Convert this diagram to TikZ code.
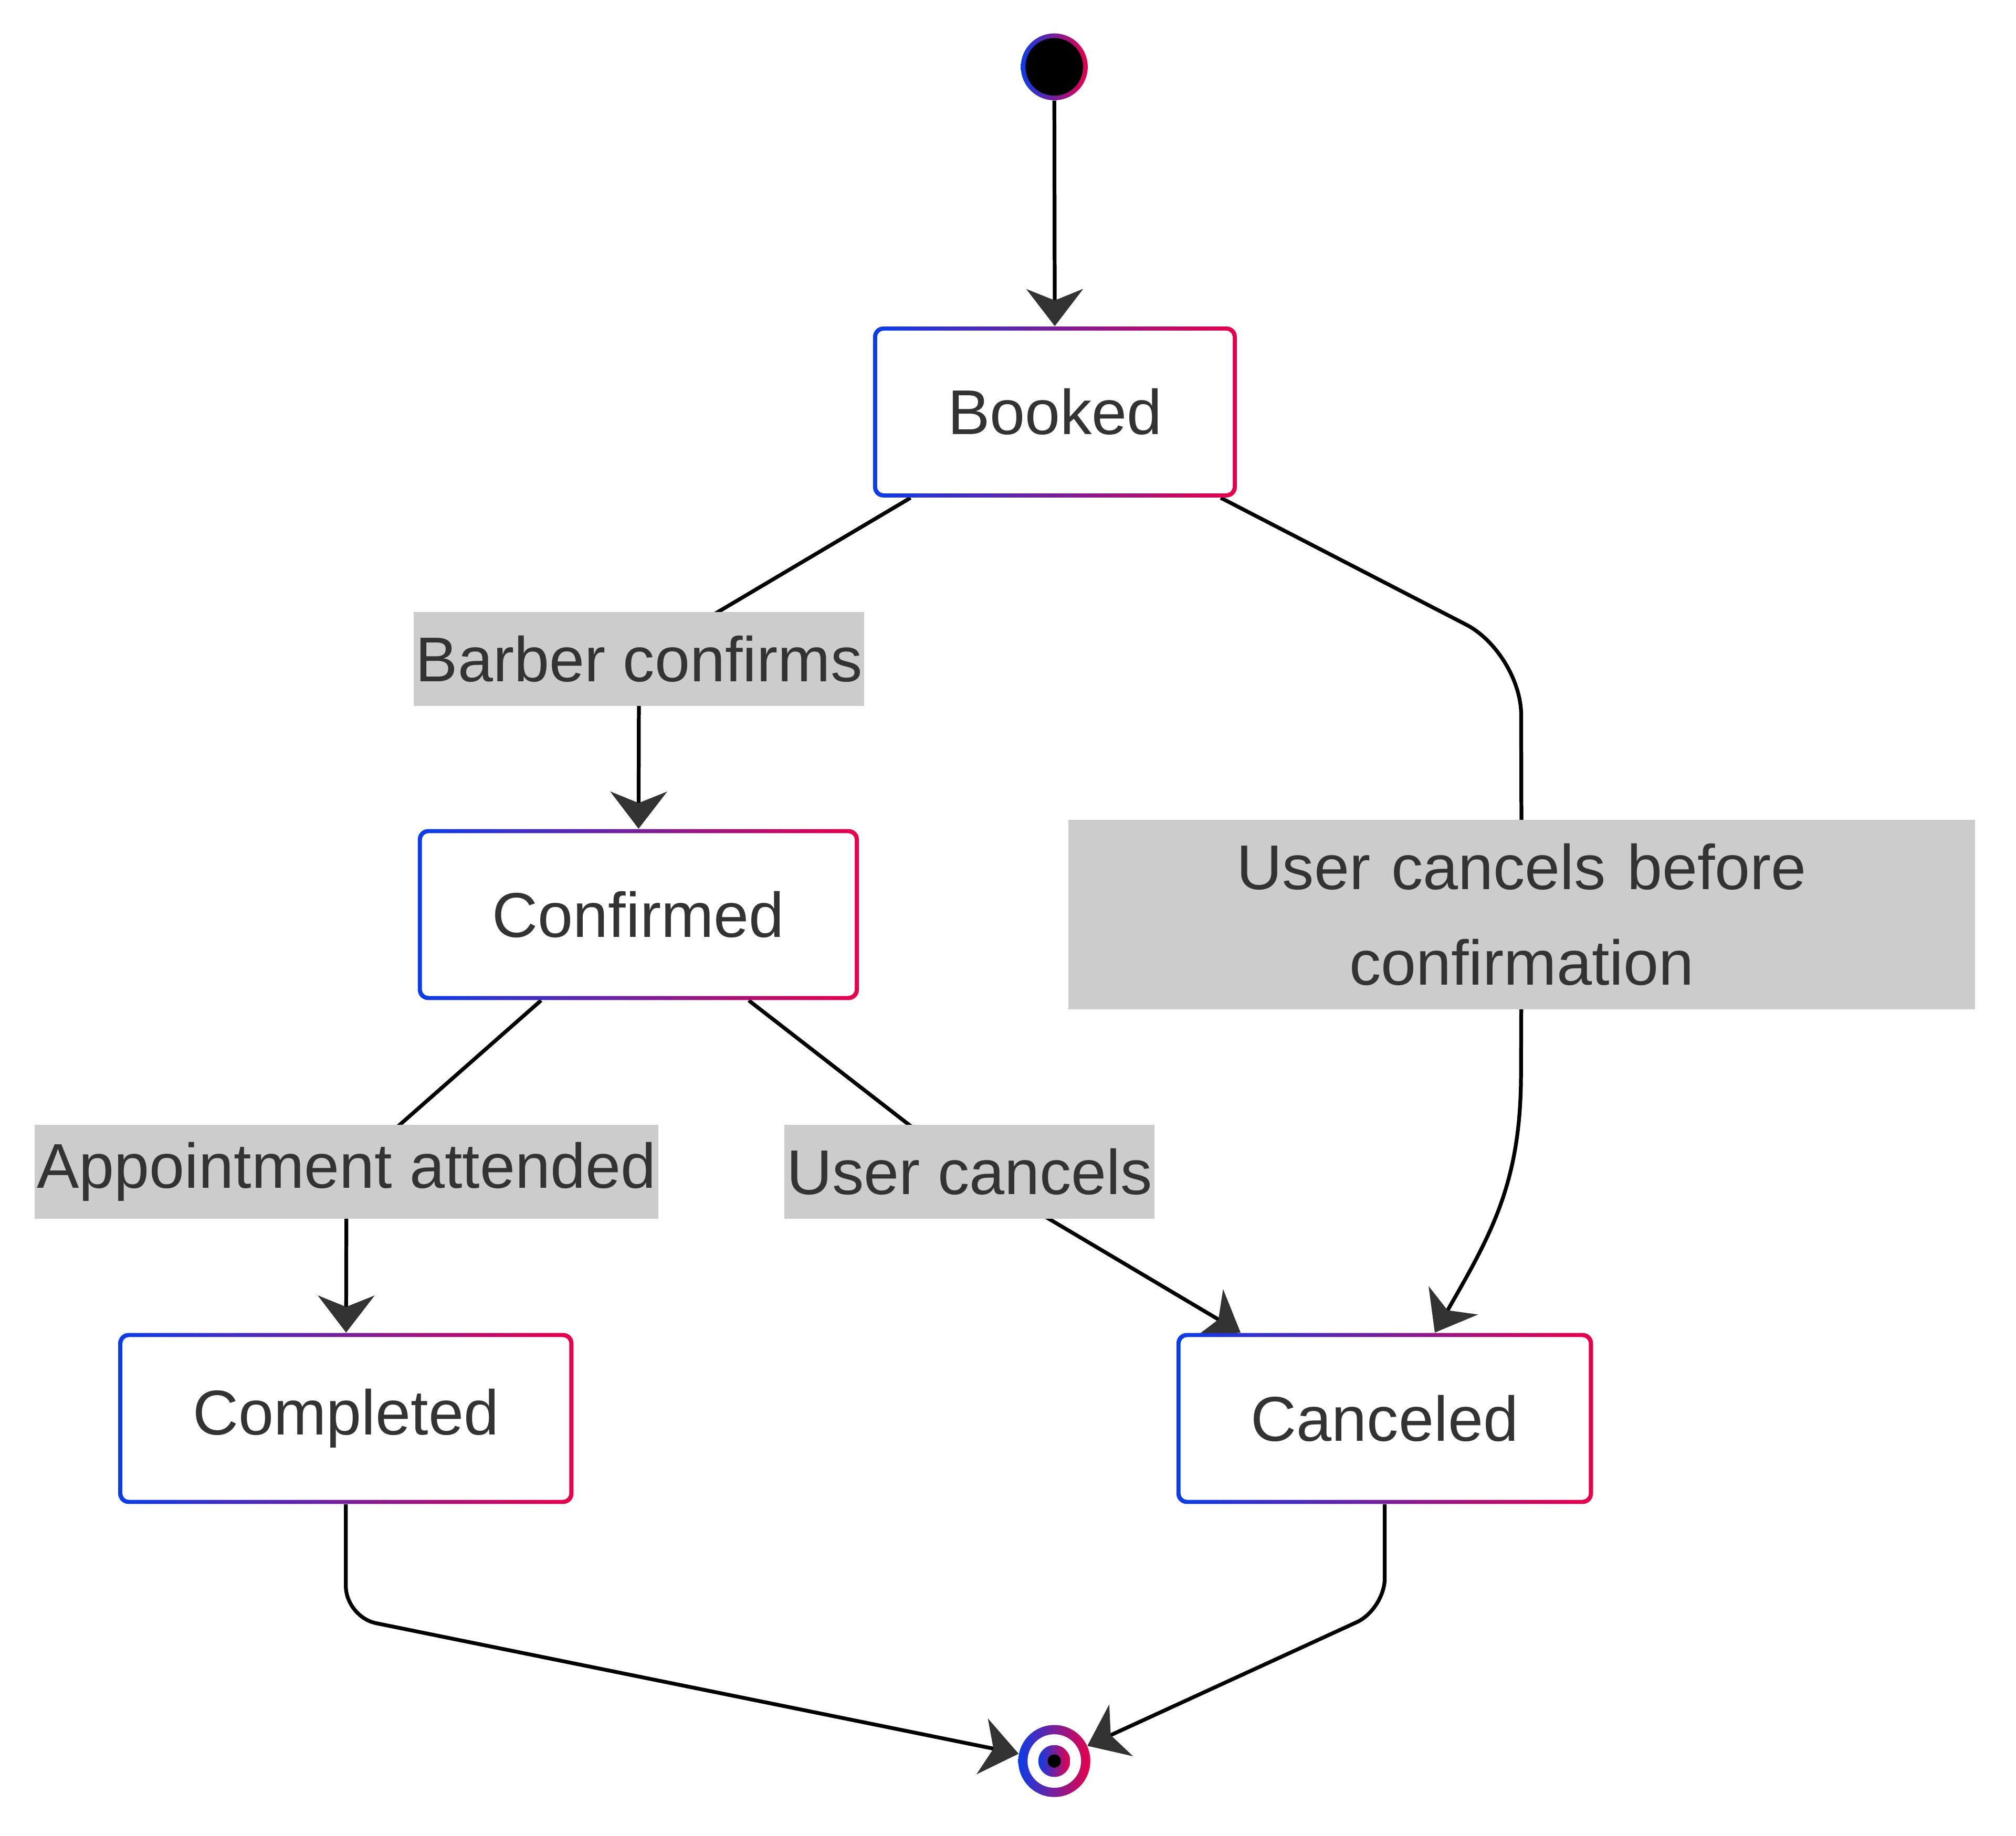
\documentclass[tikz,border=0pt]{standalone}
\usepackage{fontspec}
\setmainfont{Liberation Sans}
\usetikzlibrary{arrows.meta,calc}
\definecolor{gblue}{HTML}{0A3DE8}
\definecolor{gred}{HTML}{E8004A}
\definecolor{txtgray}{HTML}{333333}
\definecolor{lblgray}{HTML}{CCCCCC}
\pgfdeclarelayer{bg}
\pgfsetlayers{bg,main}

\begin{document}
\begin{tikzpicture}[x=0.025cm,y=-0.025cm,
	state/.style={rectangle, rounded corners=0.2cm, left color=gblue, right color=gred,
		inner xsep=1.45cm, inner ysep=0pt, minimum height=3.325cm, text=txtgray,
		font=\fontsize{35}{42}\selectfont,
		path picture={\fill[white, rounded corners=0.13cm]
			([shift={(0.08cm,-0.08cm)}]path picture bounding box.north west) rectangle
			([shift={(-0.08cm,0.08cm)}]path picture bounding box.south east);}},
	lbl/.style={fill=lblgray, text=txtgray, font=\fontsize{35}{53}\selectfont,
		inner xsep=0.04cm, inner ysep=0pt, minimum height=1.825cm},
	edge/.style={line width=2.1pt, black},
	tip/.style={-{Stealth[length=0.72cm, width=1.1cm, inset=0.22cm, color=txtgray]}}]
	\useasboundingbox (0,0) rectangle (1568,1428);

	% states
	\node (start) at (820,52) [circle, minimum size=1.3cm, inner sep=0pt, left color=gblue, right color=gred,
		path picture={\fill[black] (path picture bounding box.center) circle (0.56cm);}] {};
	\node[state] (booked) at (820.5,320.5) {Booked};
	\node[state] (confirmed) at (496.5,711.5) {Confirmed};
	\node[state] (completed) at (269,1103.5) {Completed};
	\node[state] (canceled) at (1077,1103.5) {Canceled};
	\node (finish) at (820,1370) [circle, minimum size=1.4cm, inner sep=0pt, left color=gblue, right color=gred,
		path picture={\fill[white] (path picture bounding box.center) circle (0.52cm);
			\shade[left color=gblue, right color=gred] (path picture bounding box.center) circle (0.31cm);
			\fill[black] (path picture bounding box.center) circle (0.13cm);}] {};

	% transition labels
	\node[lbl] (lconf) at (497,512.5) {Barber confirms};
	\node[lbl, text width=17.55cm, align=center, minimum height=3.675cm] (lbefore) at (1183.5,711.5) {User cancels before\\confirmation};
	\node[lbl] (lattend) at (269.5,911.5) {Appointment attended};
	\node[lbl] (lcancel) at (754,911.5) {User cancels};

	% transitions
	\begin{pgfonlayer}{bg}
	\draw[edge,tip] (start) -- (booked);
	\draw[edge] (booked) -- (lconf.center);
	\draw[edge,tip] (lconf.center) -- (confirmed);
	\draw[edge, rounded corners=1.2cm] (booked) -- (1183,508) -- (lbefore.center);
	\draw[edge,tip] (lbefore.center) -- (1183,835) .. controls (1183,920) and (1160,960) .. ($(canceled.north west)!0.62!(canceled.north east)$);
	\draw[edge] (confirmed) -- (lattend.center);
	\draw[edge,tip] (lattend.center) -- (completed);
	\draw[edge] (confirmed) -- (lcancel.center);
	\draw[edge,tip] (lcancel.center) -- (canceled);
	\draw[edge,tip, rounded corners=0.6cm] (completed) -- (269,1258) -- (finish);
	\draw[edge,tip, rounded corners=0.6cm] (canceled) -- (1077,1252) -- (finish);
	\end{pgfonlayer}
\end{tikzpicture}
\end{document}
